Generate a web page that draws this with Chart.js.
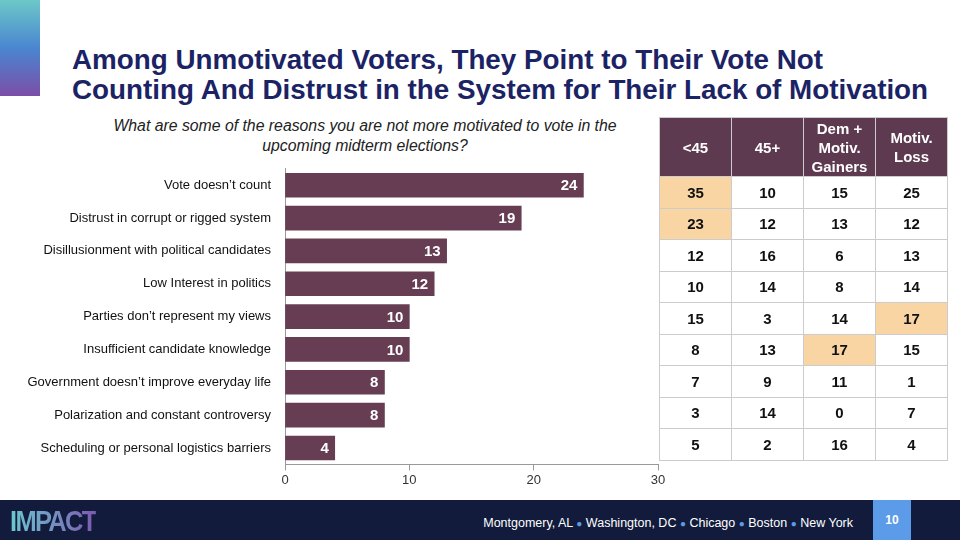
<!DOCTYPE html><html><head><meta charset="utf-8">
<script src="https://cdn.jsdelivr.net/npm/chart.js@4"></script>
<style>
body{margin:0;width:960px;height:540px;overflow:hidden;background:#fff;font-family:"Liberation Sans",Arial,sans-serif;position:relative}
#grad{position:absolute;left:0;top:0;width:40px;height:96px;background:linear-gradient(#6cc8c8,#4a86d0 50%,#7b4ea8)}
h1{position:absolute;left:72px;top:45px;margin:0;font-size:27.8px;line-height:30px;color:#1b2365;font-weight:bold;white-space:nowrap}
#sub{position:absolute;left:70px;top:116px;width:590px;text-align:center;font-style:italic;font-size:15.8px;line-height:20px;color:#222}
#wrap{position:absolute;left:0;top:155px;width:670px;height:335px}
table{position:absolute;left:659px;top:117px;border-collapse:collapse;font-size:15px;font-weight:bold;color:#111}
td,th{width:71px;text-align:center;border:1px solid #ccc;padding:0;height:30.5px}
th{background:#5e3a50;color:#fff;height:58px;line-height:19px;font-size:15px}
.h{background:#f8d5a3}
#foot{position:absolute;left:0;top:500px;width:960px;height:40px;background:#121b3c}
#logo{position:absolute;left:10px;top:4px;font-size:30px;font-weight:bold;background:linear-gradient(90deg,#6cc8d0,#7b5ab0);-webkit-background-clip:text;color:transparent;letter-spacing:-2px;transform:scaleX(0.85);transform-origin:left}
#cities{position:absolute;right:107px;top:16px;color:#fff;font-size:12.5px}
#cities b{color:#5b9be8;font-size:10px}
#pg{position:absolute;left:873px;top:0;width:38px;height:40px;background:#5b9be8;color:#fff;font-size:12px;font-weight:bold;text-align:center;line-height:40px}
</style></head><body>
<div id="grad"></div>
<h1>Among Unmotivated Voters, They Point to Their Vote Not<br>Counting And Distrust in the System for Their Lack of Motivation</h1>
<div id="sub">What are some of the reasons you are not more motivated to vote in the<br>upcoming midterm elections?</div>
<div id="wrap"><canvas id="c"></canvas></div>
<table id="t"></table>
<div id="foot"><div id="logo">IMPACT</div><div id="cities">Montgomery, AL <b>●</b> Washington, DC <b>●</b> Chicago <b>●</b> Boston <b>●</b> New York</div><div id="pg">10</div></div>
<script>
const categories=["Vote doesn’t count","Distrust in corrupt or rigged system","Disillusionment with political candidates","Low Interest in politics","Parties don’t represent my views","Insufficient candidate knowledge","Government doesn’t improve everyday life","Polarization and constant controversy","Scheduling or personal logistics barriers"];
const values=[24,19,13,12,10,10,8,8,4];
const xTicks=[0,10,20,30];
const tableHeaders=["<45","45+","Dem +<br>Motiv.<br>Gainers","Motiv.<br>Loss"];
const colUnder45=[35,23,12,10,15,8,7,3,5];
const col45plus=[10,12,16,14,3,13,9,14,2];
const colDemGainers=[15,13,6,8,14,17,11,0,16];
const colMotivLoss=[25,12,13,14,17,15,1,7,4];
const highlights=[[0,0],[1,0],[4,3],[5,2]];
const cols=[colUnder45,col45plus,colDemGainers,colMotivLoss];
let h='<tr>'+tableHeaders.map(x=>'<th>'+x+'</th>').join('')+'</tr>';
categories.forEach((_,r)=>{h+='<tr>'+cols.map((c,ci)=>'<td class="'+(highlights.some(p=>p[0]==r&&p[1]==ci)?'h':'')+'">'+c[r]+'</td>').join('')+'</tr>';});
document.getElementById('t').innerHTML=h;
const lbl={id:'lbl',afterDatasetsDraw(ch){const ctx=ch.ctx;ch.getDatasetMeta(0).data.forEach((b,i)=>{ctx.save();ctx.fillStyle='#fff';ctx.font='bold 15px "Liberation Sans",Arial';ctx.textAlign='right';ctx.textBaseline='middle';ctx.fillText(values[i],b.x-6,b.y+1);ctx.restore();});}};
new Chart(document.getElementById('c'),{type:'bar',data:{labels:categories,datasets:[{data:values,backgroundColor:'#673d54',barThickness:24}]},
options:{indexAxis:'y',responsive:true,maintainAspectRatio:false,animation:false,layout:{padding:{top:4,right:12,bottom:0,left:0}},
plugins:{legend:{display:false},tooltip:{enabled:false}},
scales:{x:{min:0,max:30,afterBuildTicks(a){a.ticks=xTicks.map(v=>({value:v}));},grid:{drawOnChartArea:false,drawTicks:true,tickLength:6,color:'#999'},border:{color:'#999'},ticks:{color:'#333',font:{size:13,family:'"Liberation Sans",Arial'},padding:2}},
y:{afterFit(a){a.width=285;},grid:{display:false},border:{color:'#999'},ticks:{color:'#111',font:{size:13,family:'"Liberation Sans",Arial'},padding:6}}}},plugins:[lbl]});
</script></body></html>
